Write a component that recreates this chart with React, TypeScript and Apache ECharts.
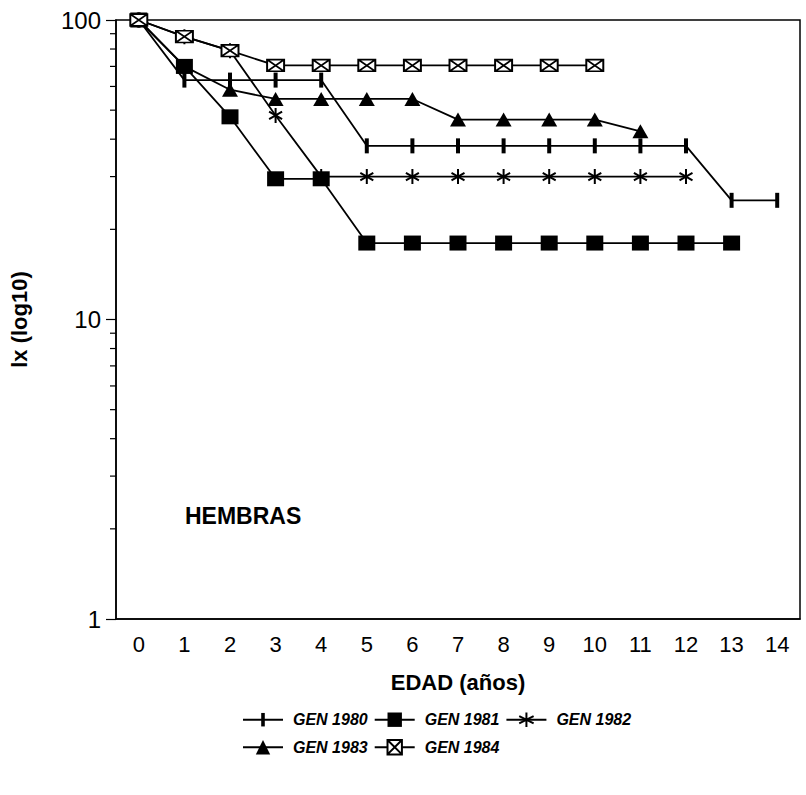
import React, { useEffect, useRef } from "react";
import * as echarts from "echarts";

const ages = ["0", "1", "2", "3", "4", "5", "6", "7", "8", "9", "10", "11", "12", "13", "14"];
const gen1980 = [100, 63, 63, 63, 63, 38, 38, 38, 38, 38, 38, 38, 38, 25, 25];
const gen1981 = [100, 70, 47.5, 29.5, 29.5, 18, 18, 18, 18, 18, 18, 18, 18, 18];
const gen1982 = [100, 88, 79, 48, 30, 30, 30, 30, 30, 30, 30, 30, 30];
const gen1983 = [100, 70, 58.5, 54.5, 54.5, 54.5, 54.5, 46.5, 46.5, 46.5, 46.5, 42.5];
const gen1984 = [100, 88, 79, 70.5, 70.5, 70.5, 70.5, 70.5, 70.5, 70.5, 70.5];
const minorTicks = [2, 3, 4, 5, 6, 7, 8, 9, 20, 30, 40, 50, 60, 70, 80, 90];
const names = ["GEN 1980", "GEN 1981", "GEN 1982", "GEN 1983", "GEN 1984"];

const FONT = "Liberation Sans";
const bar = "path://M0 0 M16 16 M6 0.5 L10 0.5 L10 15.5 L6 15.5 Z";
const asterisk = "path://M5 0 L5 10 M0.67 2.5 L9.33 7.5 M0.67 7.5 L9.33 2.5";
const crossBox = "path://M0 0 L12 0 L12 10 L0 10 Z M0 0 L12 10 M12 0 L0 10";

export default function App() {
  const ref = useRef<HTMLDivElement>(null);
  useEffect(() => {
    if (!ref.current) return;
    const chart = echarts.init(ref.current, undefined, { renderer: "svg" });
    const line = { color: "#000", width: 1.8 };
    const base = (name: string, data: number[], symbol: string, size: any, item: any, z: number) => ({
      name,
      type: "line",
      data,
      symbol,
      symbolSize: size,
      symbolKeepAspect: true,
      showAllSymbol: true,
      lineStyle: line,
      itemStyle: item,
      color: "#000",
      z,
      emphasis: { disabled: true },
    });
    const legendText = {
      fontFamily: FONT,
      fontWeight: "bold",
      fontStyle: "italic",
      fontSize: 16,
      color: "#000",
      padding: [0, 0, 0, 5],
    };
    chart.setOption({
      animation: false,
      backgroundColor: "#fff",
      grid: {
        left: 113,
        top: 20,
        right: 6,
        bottom: 176,
        show: true,
        borderColor: "#000",
        borderWidth: 1.5,
        backgroundColor: "transparent",
      },
      xAxis: {
        type: "category",
        data: ages,
        boundaryGap: true,
        name: "EDAD (años)",
        nameLocation: "middle",
        nameGap: 52,
        nameTextStyle: { fontFamily: FONT, fontWeight: "bold", fontSize: 22, color: "#000" },
        axisLine: { lineStyle: { color: "#000", width: 1.5 } },
        axisTick: { alignWithLabel: true, interval: 0, length: 7, lineStyle: { color: "#000", width: 1.2 } },
        axisLabel: { interval: 0, margin: 14, fontFamily: FONT, fontSize: 22, color: "#000" },
        splitLine: { show: false },
      },
      yAxis: {
        type: "log",
        logBase: 10,
        min: 1,
        max: 100,
        name: "lx (log10)",
        nameLocation: "middle",
        nameGap: 86,
        nameTextStyle: { fontFamily: FONT, fontWeight: "bold", fontSize: 22, color: "#000" },
        axisLine: { show: true, lineStyle: { color: "#000", width: 1.5 } },
        axisTick: { show: true, length: 10, lineStyle: { color: "#000", width: 1.2 } },
        axisLabel: { margin: 15, fontFamily: FONT, fontSize: 24, color: "#000" },
        splitLine: { show: false },
      },
      legend: [
        {
          data: names.slice(0, 3),
          left: 237,
          top: 705,
          itemWidth: 40,
          itemHeight: 18,
          itemGap: 6,
          textStyle: legendText,
        },
        {
          data: names.slice(3),
          left: 237,
          top: 734,
          itemWidth: 40,
          itemHeight: 18,
          itemGap: 6,
          textStyle: legendText,
        },
      ],
      graphic: [
        {
          type: "text",
          left: 185,
          top: 504,
          style: { text: "HEMBRAS", fontFamily: FONT, fontWeight: "bold", fontSize: 23, fill: "#000" },
        },
      ],
      series: [
        base(names[0], gen1980, bar, 16, { color: "#000" }, 2),
        base(names[3], gen1983, "triangle", [16, 14], { color: "#000" }, 3),
        base(names[2], gen1982, asterisk, 15, { color: "none", borderColor: "#000", borderWidth: 2 }, 4),
        base(names[1], gen1981, "rect", [17, 15], { color: "#000" }, 5),
        base(names[4], gen1984, crossBox, [17, 14], { color: "#fff", borderColor: "#000", borderWidth: 1.8 }, 6),
        {
          type: "custom",
          silent: true,
          clip: false,
          data: minorTicks.map((v) => [0, v]),
          encode: { x: 0, y: 1 },
          renderItem: (params: any, api: any) => {
            const pt = api.coord([0, api.value(1)]);
            const x0 = params.coordSys.x;
            return {
              type: "line",
              shape: { x1: x0 - 6, y1: pt[1], x2: x0, y2: pt[1] },
              style: { stroke: "#000", lineWidth: 1.2 },
            };
          },
        },
      ],
    });
    return () => chart.dispose();
  }, []);
  return <div ref={ref} style={{ position: "absolute", left: 0, top: 0, width: 806, height: 795 }} />;
}
